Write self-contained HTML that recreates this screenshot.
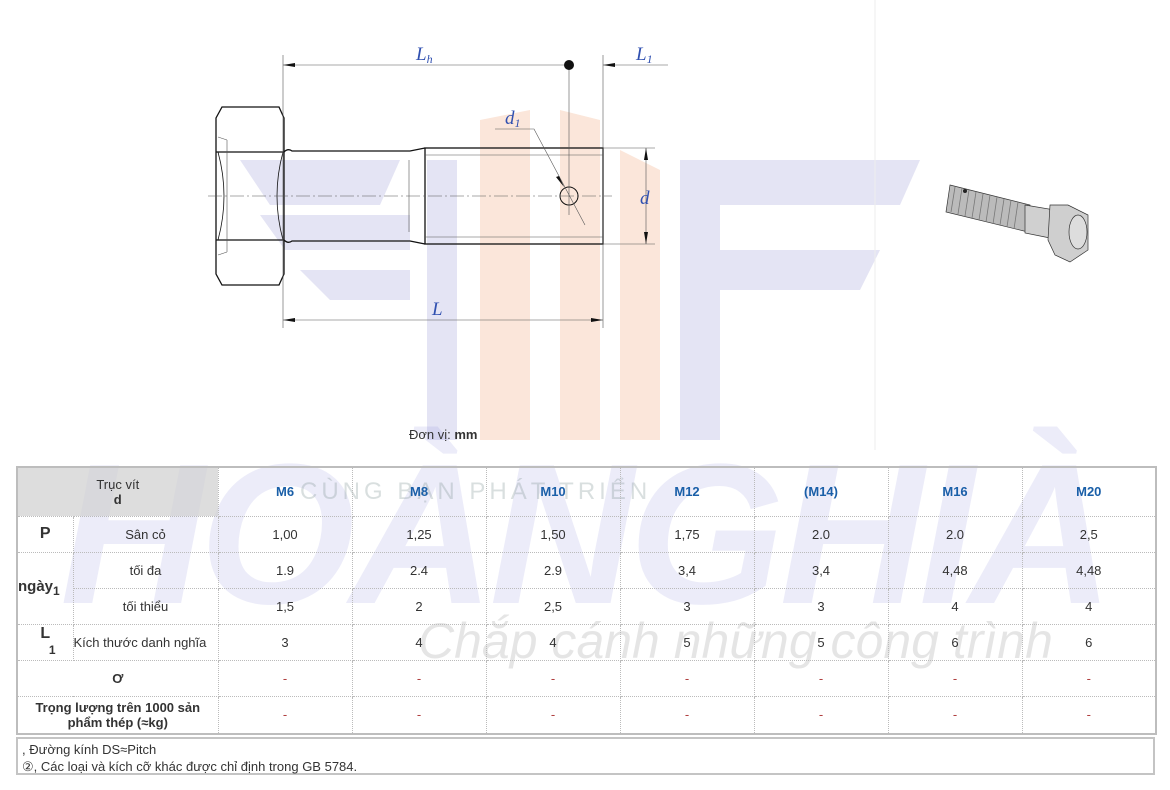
<!DOCTYPE html>
<html><head><meta charset="utf-8"><style>
body{margin:0;width:1170px;height:790px;background:#fff;position:relative;overflow:hidden;font-family:"Liberation Sans",Arial,sans-serif;}
.abs{position:absolute}
table{position:absolute;left:16px;top:466px;border-collapse:collapse;table-layout:fixed;width:1139px;border:2px solid #bdbdbd;font-size:13px;color:#333}
td{border:1px dotted #bbb;text-align:center;padding:0;vertical-align:middle}
.h td{color:#1a5fa8;font-weight:bold}
.note{position:absolute;left:16px;top:737px;width:1135px;height:38px;border:2px solid #c4c4c4;font-size:13px;color:#333;line-height:17px;padding-left:4px;box-sizing:border-box;width:1139px;padding-top:2px}
.dash{color:#b04040}
</style></head><body>
<!-- watermark -->
<svg class="abs" style="left:0;top:0" width="1170" height="790">
 <g fill="#e4e4f4">
  <polygon points="240,160 400,160 380,205 270,205"/>
  <polygon points="260,215 410,215 410,250 285,250"/>
  <polygon points="300,270 410,270 410,300 330,300"/>
  <rect x="427" y="160" width="30" height="280"/>
  <polygon points="680,160 920,160 900,205 680,205"/>
  <rect x="680" y="160" width="40" height="280"/>
  <polygon points="720,250 880,250 860,290 720,290"/>
 </g>
 <g fill="#fbe6da">
  <polygon points="480,120 530,110 530,440 480,440"/>
  <polygon points="560,110 600,120 600,440 560,440"/>
  <polygon points="620,150 660,170 660,440 620,440"/>
 </g>
 <line x1="875" y1="0" x2="875" y2="450" stroke="#eee"/>
</svg>
<div class="abs" style="left:60px;top:420px;font:italic bold 200px 'Liberation Sans',sans-serif;color:rgba(110,110,210,0.13);letter-spacing:-5px;white-space:nowrap">HOÀNGHIÀ</div>
<div class="abs" style="left:300px;top:478px;font-size:24px;color:rgba(120,140,140,0.28);letter-spacing:4px">CÙNG BẠN PHÁT TRIỂN</div>
<div class="abs" style="left:418px;top:612px;font:italic 50px 'Liberation Sans',sans-serif;color:rgba(0,0,0,0.1);white-space:nowrap">Chắp cánh những công trình</div>

<!-- drawing -->
<svg class="abs" style="left:0;top:0" width="1170" height="460">
 <g stroke="#111" fill="none" stroke-width="1.3">
  <polygon points="222,107 279,107 284,118 284,274 279,285 222,285 216,274 216,118"/>
  <line x1="216" y1="152" x2="284" y2="152"/><line x1="216" y1="240" x2="284" y2="240"/>
  <path d="M218,152 Q230,196 218,240" stroke-width="0.8"/>
  <path d="M283,152 Q271,196 283,240" stroke-width="0.8"/>
  <path d="M284,152 Q288,148 292,151 L410,151 L425,148"/>
  <path d="M284,240 Q288,244 292,241 L410,241 L425,244"/>
  <rect x="425" y="148" width="178" height="96"/>
  <circle cx="569" cy="196" r="9" stroke-width="1"/>
 </g>
 <g stroke="#555" stroke-width="0.6" fill="none">
  <line x1="425" y1="155" x2="603" y2="155"/><line x1="425" y1="237" x2="603" y2="237"/>
  <line x1="409" y1="160" x2="409" y2="232"/>
  <line x1="208" y1="196" x2="612" y2="196" stroke-dasharray="14,3,2,3"/>
  <line x1="283" y1="55" x2="283" y2="328"/><line x1="603" y1="55" x2="603" y2="328"/>
  <line x1="283" y1="65" x2="569" y2="65"/><line x1="603" y1="65" x2="668" y2="65"/>
  <line x1="283" y1="320" x2="603" y2="320"/>
  <line x1="569" y1="65" x2="569" y2="215"/>
  <line x1="603" y1="148" x2="655" y2="148"/><line x1="603" y1="244" x2="655" y2="244"/>
  <line x1="646" y1="148" x2="646" y2="244"/>
  <polyline points="495,129 534,129 585,225"/>
  <line x1="218" y1="137" x2="227" y2="140"/><line x1="227" y1="140" x2="227" y2="252"/><line x1="218" y1="255" x2="227" y2="252"/>
 </g>
 <g fill="#111">
  <circle cx="569" cy="65" r="5"/>
  <polygon points="283,65 295,63 295,67"/><polygon points="603,65 615,63 615,67"/>
  <polygon points="283,320 295,318 295,322"/><polygon points="603,320 591,318 591,322"/>
  <polygon points="646,148 644,160 648,160"/><polygon points="646,244 644,232 648,232"/>
  <polygon points="564,187 556,177 559,176"/>
 </g>
 <g fill="#3050b0" font-family="Liberation Serif,serif" font-style="italic" font-size="19">
  <text x="416" y="60">L<tspan font-size="12" dy="3">h</tspan></text>
  <text x="636" y="60">L<tspan font-size="12" dy="3">1</tspan></text>
  <text x="505" y="124">d<tspan font-size="12" dy="3">1</tspan></text>
  <text x="640" y="204">d</text>
  <text x="432" y="315">L</text>
 </g>
 <!-- 3d bolt -->
 <g stroke="#333" stroke-width="0.7">
  <polygon points="950,185 1030,205 1028,232 946,212" fill="#bbb"/>
  <polygon points="1025,205 1055,210 1060,240 1025,233" fill="#d0d0d0"/>
  <polygon points="1050,205 1068,205 1088,215 1088,250 1070,262 1055,255 1048,240" fill="#cfcfcf"/>
  <ellipse cx="1078" cy="232" rx="9" ry="17" fill="#ddd"/>
 </g>
 <g stroke="#777" stroke-width="0.8">
  <line x1="955" y1="187" x2="951" y2="212"/><line x1="962" y1="188" x2="958" y2="214"/><line x1="969" y1="190" x2="965" y2="216"/><line x1="976" y1="192" x2="972" y2="218"/><line x1="983" y1="194" x2="979" y2="220"/><line x1="990" y1="195" x2="986" y2="222"/><line x1="997" y1="197" x2="993" y2="224"/><line x1="1004" y1="199" x2="1000" y2="225"/><line x1="1011" y1="200" x2="1007" y2="227"/><line x1="1018" y1="202" x2="1014" y2="229"/>
 </g>
 <circle cx="965" cy="191" r="2" fill="#222"/>
</svg>
<div class="abs" style="left:409px;top:427px;font-size:13px;color:#333">Đơn vị: <b>mm</b></div>

<table>
<colgroup><col style="width:56px"><col style="width:145px"><col span="7" style="width:134px"></colgroup>
<tr class="h" style="height:49px"><td colspan="2" style="background:rgba(210,210,210,0.75);color:#333;font-weight:normal;line-height:15px">Trục vít<br><b>d</b></td><td>M6</td><td>M8</td><td>M10</td><td>M12</td><td>(M14)</td><td>M16</td><td>M20</td></tr>
<tr style="height:36px"><td style="font-weight:bold;font-size:16px">P</td><td>Sân cỏ</td><td>1,00</td><td>1,25</td><td>1,50</td><td>1,75</td><td>2.0</td><td>2.0</td><td>2,5</td></tr>
<tr style="height:36px"><td rowspan="2" style="font-weight:bold;font-size:15px;text-align:left">ngày<sub style="font-size:12px">1</sub></td><td>tối đa</td><td>1.9</td><td>2.4</td><td>2.9</td><td>3,4</td><td>3,4</td><td>4,48</td><td>4,48</td></tr>
<tr style="height:36px"><td>tối thiểu</td><td>1,5</td><td>2</td><td>2,5</td><td>3</td><td>3</td><td>4</td><td>4</td></tr>
<tr style="height:36px"><td style="font-weight:bold;font-size:16px;line-height:16px">L<br><span style="font-size:12px;padding-left:14px">1</span></td><td style="text-align:left">Kích thước danh nghĩa</td><td>3</td><td>4</td><td>4</td><td>5</td><td>5</td><td>6</td><td>6</td></tr>
<tr style="height:36px"><td colspan="2"><b>Ơ</b></td><td class="dash">-</td><td class="dash">-</td><td class="dash">-</td><td class="dash">-</td><td class="dash">-</td><td class="dash">-</td><td class="dash">-</td></tr>
<tr style="height:38px"><td colspan="2" style="font-weight:bold;line-height:15px">Trọng lượng trên 1000 sản phẩm thép (≈kg)</td><td class="dash">-</td><td class="dash">-</td><td class="dash">-</td><td class="dash">-</td><td class="dash">-</td><td class="dash">-</td><td class="dash">-</td></tr>
</table>
<div class="note">, Đường kính DS≈Pitch<br>②, Các loại và kích cỡ khác được chỉ định trong GB 5784.</div>
</body></html>
